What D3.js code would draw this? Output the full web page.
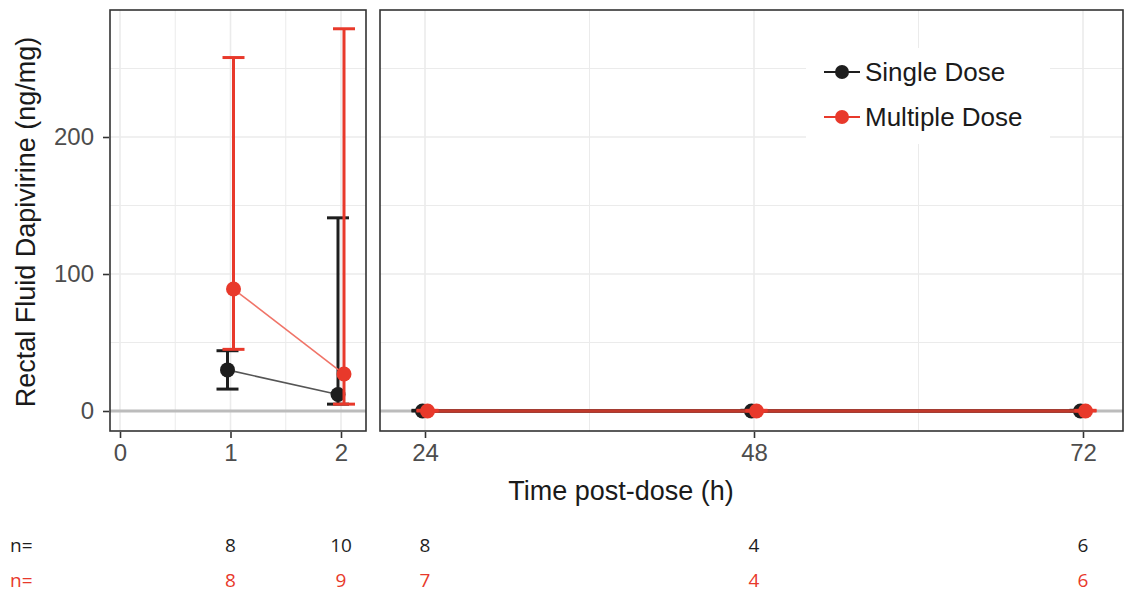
<!DOCTYPE html>
<html lang="en">
  <head>
    <meta charset="UTF-8" />
    <title>Rectal Fluid Dapivirine</title>
    <style>
      body { margin: 0; background: #fff; }
      svg { display: block; font-family: "Liberation Sans", Arial, sans-serif; }
      .grid line { stroke: #ebebeb; }
      .tick text { fill: #4d4d4d; font-size: 24px; }
      .tick line { stroke: #333; }
      .domain { display: none; }
    </style>
  </head>
  <body>
    <svg></svg>
    <script src="https://cdnjs.cloudflare.com/ajax/libs/d3/7.1.0/d3.min.js"></script>
    <script>
      // data
      const times = [1, 2, 24, 48, 72];
      const singleMean = [30, 12, 0, 0, 0];
      const singleLo = [16, 5, 0, 0, 0];
      const singleHi = [44, 141, 0.5, 0.5, 0.5];
      const multiMean = [89, 27, 0, 0, 0];
      const multiLo = [45, 5, 0, 0, 0];
      const multiHi = [258, 279, 0.5, 0.5, 0.5];
      const nSingle = [8, 10, 8, 4, 6];
      const nMulti = [8, 9, 7, 4, 6];
      const leftTicks = [0, 1, 2];
      const rightTicks = [24, 48, 72];
      const yTicks = [0, 100, 200];

      const red = "#e8392b";
      const black = "#1e1e1e";

      const svg = d3.select("svg").attr("width", 1125).attr("height", 596);

      const y = d3.scaleLinear().domain([0, 200]).range([411, 137]);
      const panelTop = 10, panelBottom = 431;

      const panels = [
        { x: d3.scaleLinear().domain([0, 2]).range([120, 341]), x0: 110, x1: 366, ticks: leftTicks, minor: [0.5, 1.5], dodge: 3, keep: t => t <= 2 },
        { x: d3.scaleLinear().domain([24, 72]).range([425, 1083]), x0: 380, x1: 1123, ticks: rightTicks, minor: [36, 60], dodge: 2.5, keep: t => t > 2 }
      ];

      const series = [
        { name: "Single Dose", color: black, line: "#555", mean: singleMean, lo: singleLo, hi: singleHi, n: nSingle, side: -1 },
        { name: "Multiple Dose", color: red, line: "#f07468", mean: multiMean, lo: multiLo, hi: multiHi, n: nMulti, side: 1 }
      ];

      panels.forEach(function (p, pi) {
        const g = svg.append("g");
        g.append("rect").attr("x", p.x0).attr("y", panelTop)
          .attr("width", p.x1 - p.x0).attr("height", panelBottom - panelTop).attr("fill", "#fff");

        const grid = g.append("g").attr("class", "grid");
        const yMinor = [50, 150, 250];
        grid.selectAll(".hmin").data(yMinor).enter().append("line")
          .attr("x1", p.x0).attr("x2", p.x1)
          .attr("y1", d => y(d)).attr("y2", d => y(d)).attr("stroke-width", 1);
        grid.selectAll(".hmaj").data(yTicks).enter().append("line")
          .attr("x1", p.x0).attr("x2", p.x1)
          .attr("y1", d => y(d)).attr("y2", d => y(d)).attr("stroke-width", 1.6);
        grid.selectAll(".vmin").data(p.minor).enter().append("line")
          .attr("y1", panelTop).attr("y2", panelBottom)
          .attr("x1", d => p.x(d)).attr("x2", d => p.x(d)).attr("stroke-width", 1);
        grid.selectAll(".vmaj").data(p.ticks).enter().append("line")
          .attr("y1", panelTop).attr("y2", panelBottom)
          .attr("x1", d => p.x(d)).attr("x2", d => p.x(d)).attr("stroke-width", 1.6);

        // zero reference line
        g.append("line").attr("x1", p.x0).attr("x2", p.x1)
          .attr("y1", y(0)).attr("y2", y(0))
          .attr("stroke", "#bcbcbc").attr("stroke-width", 3);

        // legend box in the right panel
        if (pi === 1) {
          const lg = g.append("g");
          lg.append("rect").attr("x", 806).attr("y", 48).attr("width", 244).attr("height", 96).attr("fill", "#fff");
          series.forEach(function (s, i) {
            const ly = 72 + i * 45;
            lg.append("line").attr("x1", 824).attr("x2", 860).attr("y1", ly).attr("y2", ly)
              .attr("stroke", s.color).attr("stroke-width", 2);
            lg.append("circle").attr("cx", 842).attr("cy", ly).attr("r", 7).attr("fill", s.color);
            lg.append("text").attr("x", 865).attr("y", ly + 9).attr("font-size", 26)
              .attr("fill", "#1a1a1a").text(s.name);
          });
        }

        series.forEach(function (s) {
          const pts = times.map((t, i) => ({ t: t, m: s.mean[i], lo: s.lo[i], hi: s.hi[i] }))
            .filter(d => p.keep(d.t));
          const cx = d => p.x(d.t) + s.side * p.dodge;
          const sg = g.append("g");
          sg.append("path").datum(pts)
            .attr("fill", "none")
            .attr("stroke", pi === 0 ? s.line : (s.side > 0 ? "#c0392b" : black))
            .attr("stroke-width", pi === 0 ? 1.6 : 3.5)
            .attr("d", d3.line().x(cx).y(d => y(d.m)));
          sg.selectAll(".eb").data(pts).enter().append("line")
            .attr("x1", cx).attr("x2", cx)
            .attr("y1", d => y(d.lo)).attr("y2", d => y(d.hi))
            .attr("stroke", s.color).attr("stroke-width", 3);
          [d => d.lo, d => d.hi].forEach(function (f) {
            sg.selectAll(".cap").data(pts).enter().append("line")
              .attr("x1", d => cx(d) - 11).attr("x2", d => cx(d) + 11)
              .attr("y1", d => y(f(d))).attr("y2", d => y(f(d)))
              .attr("stroke", s.color).attr("stroke-width", 3);
          });
          sg.selectAll("circle").data(pts).enter().append("circle")
            .attr("cx", cx).attr("cy", d => y(d.m)).attr("r", 7.5).attr("fill", s.color);
        });

        // panel border
        g.append("rect").attr("x", p.x0).attr("y", panelTop)
          .attr("width", p.x1 - p.x0).attr("height", panelBottom - panelTop)
          .attr("fill", "none").attr("stroke", "#333").attr("stroke-width", 1.6);

        // x axis
        svg.append("g").attr("transform", "translate(0," + (panelBottom + 1) + ")")
          .call(d3.axisBottom(p.x).tickValues(p.ticks).tickFormat(d3.format("d")).tickSize(6).tickPadding(6))
          .selectAll(".tick line").attr("stroke-width", 1.6);

        // n rows
        const nx = times.map((t, i) => ({ t: t, i: i })).filter(d => p.keep(d.t));
        series.forEach(function (s, si) {
          svg.selectAll(null).data(nx).enter().append("text")
            .attr("x", d => p.x(d.t)).attr("y", 552 + si * 35)
            .attr("text-anchor", "middle")
            .style("font-family", "'Open Sans', sans-serif").attr("font-size", 19)
            .attr("fill", si === 0 ? black : red)
            .text(d => s.n[d.i]);
        });
      });

      // y axis
      svg.append("g").attr("transform", "translate(109,0)")
        .call(d3.axisLeft(y).tickValues(yTicks).tickSize(6).tickPadding(9))
        .selectAll(".tick line").attr("stroke-width", 1.6);

      ["n=", "n="].forEach(function (t, i) {
        svg.append("text").attr("x", 10).attr("y", 552 + i * 35)
          .style("font-family", "'Open Sans', sans-serif").attr("font-size", 19)
          .attr("fill", i === 0 ? black : red).text(t);
      });

      svg.append("text").attr("transform", "translate(35,222) rotate(-90)")
        .attr("text-anchor", "middle").attr("font-size", 27).attr("fill", "#1a1a1a")
        .text("Rectal Fluid Dapivirine (ng/mg)");

      svg.append("text").attr("x", 621).attr("y", 500)
        .attr("text-anchor", "middle").attr("font-size", 27).attr("fill", "#1a1a1a")
        .text("Time post-dose (h)");
    </script>
  </body>
</html>
